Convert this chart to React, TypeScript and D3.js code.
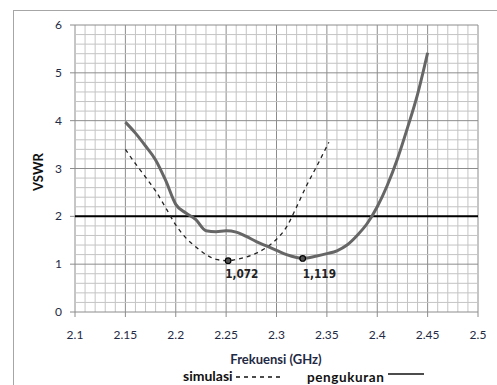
import React, { useEffect, useRef } from 'react';
import * as d3 from 'd3';

// measured VSWR (pengukuran)
const measFreq = [2.15, 2.16, 2.17, 2.18, 2.19, 2.2, 2.21, 2.22, 2.23, 2.24, 2.25, 2.26, 2.27, 2.28, 2.29, 2.3, 2.31, 2.32, 2.326, 2.34, 2.35, 2.36, 2.37, 2.38, 2.39, 2.4, 2.41, 2.42, 2.43, 2.44, 2.45];
const measVswr = [3.97, 3.74, 3.47, 3.18, 2.75, 2.25, 2.07, 1.93, 1.7, 1.68, 1.7, 1.67, 1.58, 1.47, 1.38, 1.29, 1.2, 1.14, 1.119, 1.17, 1.22, 1.28, 1.4, 1.6, 1.85, 2.2, 2.65, 3.2, 3.85, 4.55, 5.42];

// simulated VSWR (simulasi)
const simFreq = [2.15, 2.16, 2.17, 2.18, 2.19, 2.2, 2.21, 2.22, 2.23, 2.24, 2.252, 2.26, 2.27, 2.28, 2.29, 2.3, 2.31, 2.32, 2.33, 2.34, 2.352];
const simVswr = [3.4, 3.1, 2.82, 2.53, 2.18, 1.82, 1.55, 1.36, 1.2, 1.1, 1.072, 1.1, 1.15, 1.23, 1.35, 1.52, 1.78, 2.2, 2.65, 3.05, 3.55];

const minima = [
  { f: 2.252, v: 1.072, label: '1,072', dx: -3 },
  { f: 2.326, v: 1.119, label: '1,119', dx: 0 },
];

const xTicks = [2.1, 2.15, 2.2, 2.25, 2.3, 2.35, 2.4, 2.45, 2.5];
const yTicks = [0, 1, 2, 3, 4, 5, 6];
const limit = 2;

const App = () => {
  const svgRef = useRef<SVGSVGElement>(null);

  useEffect(() => {
    const svg = d3.select(svgRef.current);
    svg.selectAll('*').remove();

    const x = d3.scaleLinear().domain([2.1, 2.5]).range([75, 478]);
    const y = d3.scaleLinear().domain([0, 6]).range([312, 25]);

    // outer chart frame
    svg.append('rect')
      .attr('x', 13.5).attr('y', 10.5)
      .attr('width', 500).attr('height', 400)
      .attr('fill', 'white').attr('stroke', '#a6a6a6');

    const grid = svg.append('g');
    d3.range(0, 41).forEach(i => {
      const xv = x(2.1 + i * 0.01);
      grid.append('line')
        .attr('x1', xv).attr('x2', xv).attr('y1', y(0)).attr('y2', y(6))
        .attr('stroke', i % 5 === 0 ? '#8c8c8c' : '#c4c4c4').attr('stroke-width', 1);
    });
    d3.range(0, 31).forEach(i => {
      const yv = y(i * 0.2);
      grid.append('line')
        .attr('x1', x(2.1)).attr('x2', x(2.5)).attr('y1', yv).attr('y2', yv)
        .attr('stroke', i % 5 === 0 ? '#8c8c8c' : '#c4c4c4').attr('stroke-width', 1);
    });

    // axes ticks
    const tickCol = '#8c8c8c';
    yTicks.forEach(t => {
      svg.append('line').attr('x1', x(2.1) - 5).attr('x2', x(2.1))
        .attr('y1', y(t)).attr('y2', y(t)).attr('stroke', tickCol);
      svg.append('text').attr('x', 62).attr('y', y(t) + 4)
        .attr('text-anchor', 'end').attr('font-size', 12)
        .attr('font-family', 'Lato, sans-serif').attr('fill', '#1f2a44')
        .text(t);
    });
    xTicks.forEach(t => {
      svg.append('line').attr('x1', x(t)).attr('x2', x(t))
        .attr('y1', y(0)).attr('y2', y(0) + 5).attr('stroke', tickCol);
      svg.append('text').attr('x', x(t)).attr('y', 339)
        .attr('text-anchor', 'middle').attr('font-size', 12)
        .attr('font-family', 'Lato, sans-serif').attr('fill', '#1f2a44')
        .text(String(t));
    });

    // limit line
    svg.append('line')
      .attr('x1', x(2.1)).attr('x2', x(2.5)).attr('y1', y(limit)).attr('y2', y(limit))
      .attr('stroke', '#000').attr('stroke-width', 2);

    const line = d3.line<[number, number]>()
      .x(d => x(d[0])).y(d => y(d[1])).curve(d3.curveMonotoneX);

    svg.append('path')
      .datum(simFreq.map((f, i) => [f, simVswr[i]] as [number, number]))
      .attr('d', line).attr('fill', 'none')
      .attr('stroke', '#222').attr('stroke-width', 1.3).attr('stroke-dasharray', '4,4');

    svg.append('path')
      .datum(measFreq.map((f, i) => [f, measVswr[i]] as [number, number]))
      .attr('d', line).attr('fill', 'none')
      .attr('stroke', '#666').attr('stroke-width', 3).attr('stroke-linejoin', 'round');

    minima.forEach(m => {
      svg.append('circle').attr('cx', x(m.f)).attr('cy', y(m.v)).attr('r', 2.8)
        .attr('fill', '#555').attr('stroke', '#000').attr('stroke-width', 1.2);
      svg.append('text').attr('x', x(m.f) + m.dx).attr('y', 278)
        .attr('font-size', 13).attr('font-weight', 'bold')
        .attr('font-family', '"DejaVu Sans Condensed", "DejaVu Sans", sans-serif')
        .attr('transform', `translate(${x(m.f) + m.dx},0) scale(0.9,1) translate(${-(x(m.f) + m.dx)},0)`)
        .attr('fill', '#222').text(m.label);
    });

    // axis titles
    svg.append('text').attr('transform', 'translate(43,172) rotate(-90)')
      .attr('text-anchor', 'middle').attr('font-size', 13).attr('font-weight', 'bold')
      .attr('font-family', 'Lato, sans-serif').attr('fill', '#111').text('VSWR');
    svg.append('text').attr('x', 276).attr('y', 364)
      .attr('text-anchor', 'middle').attr('font-size', 13).attr('font-weight', 'bold')
      .attr('font-family', 'Lato, sans-serif').attr('fill', '#1f2a44').text('Frekuensi (GHz)');

    // legend
    svg.append('text').attr('x', 183).attr('y', 381)
      .attr('font-size', 14).attr('font-weight', 'bold')
      .attr('font-family', 'Lato, sans-serif').attr('fill', '#111').text('simulasi');
    svg.append('line').attr('x1', 236).attr('x2', 284).attr('y1', 377).attr('y2', 377)
      .attr('stroke', '#111').attr('stroke-width', 1.6).attr('stroke-dasharray', '4,4');
    svg.append('text').attr('x', 307).attr('y', 382)
      .attr('font-size', 13.5).attr('font-weight', 'bold').attr('letter-spacing', 0.6)
      .attr('font-family', 'Lato, sans-serif').attr('fill', '#111').text('pengukuran');
    svg.append('line').attr('x1', 388).attr('x2', 424).attr('y1', 374).attr('y2', 374)
      .attr('stroke', '#111').attr('stroke-width', 1.6);
  }, []);

  return <svg ref={svgRef} width={497} height={385} style={{ position: 'absolute', left: 0, top: 0 }} />;
};

export default App;
